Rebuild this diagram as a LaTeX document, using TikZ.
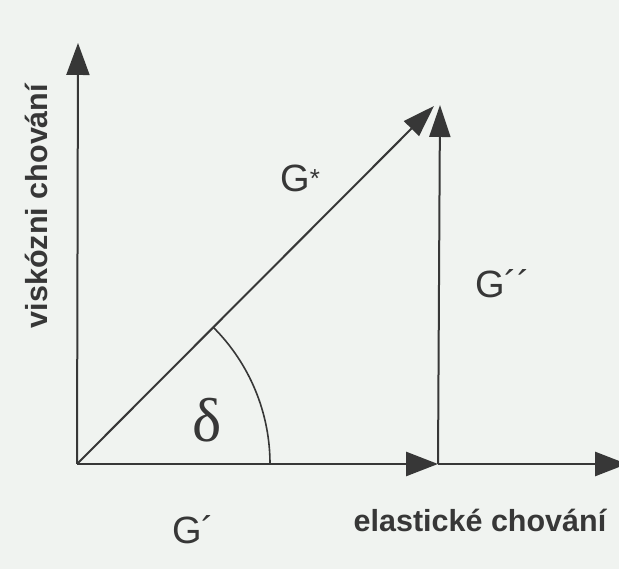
\documentclass[tikz,border=0pt]{standalone}
\usepackage{fontspec}
\setmainfont{Liberation Sans}
\newfontfamily\greekserif{Liberation Serif}
\usetikzlibrary{arrows.meta}
\definecolor{bgc}{RGB}{240,243,240}
\definecolor{ink}{RGB}{55,55,55}
\begin{document}
\begin{tikzpicture}[x=1pt,y=1pt,
  axis/.style={draw=ink, line width=2pt, -{Triangle[length=32pt,width=23pt]}},
  haxis/.style={draw=ink, line width=2.8pt, -{Triangle[length=32pt,width=24pt]}},
  axlabel/.style={text=ink, font=\fontsize{30.5}{36}\selectfont\bfseries, inner sep=0pt},
  glabel/.style={text=ink, font=\fontsize{38}{44}\selectfont, inner sep=0pt}]
\useasboundingbox (0,0) rectangle (619,569);
\fill[bgc] (0,0) rectangle (619,569);
\clip (0,0) rectangle (619,569);
% points
\coordinate (O) at (77,105);
\coordinate (Ytop) at (78,526);
\coordinate (D) at (434,463);
\coordinate (P) at (438,105);
\coordinate (V) at (440,464);
\coordinate (Xend) at (627,105);
% axes and vectors
\draw[axis] (O) -- (Ytop);
\draw[haxis] (O) -- (P);
\draw[haxis] (P) -- (Xend);
\draw[axis, -{Triangle[length=32pt,width=21pt]}] (O) -- (D);
\draw[axis, -{Triangle[length=32pt,width=21pt]}] (P) -- (V);
% angle arc
\draw[ink, line width=1.6pt] (O) ++(193,0) arc[start angle=0, end angle=45, radius=193];
% labels
\node[text=ink, inner sep=0pt, font=\greekserif\fontsize{62}{64}\selectfont] (delta) at (207,149) {δ};
\node[glabel, anchor=base west] (gstar) at (280,377) {G{\fontsize{26}{26}\selectfont\raisebox{4pt}{*}}};
\node[glabel, anchor=base west] (gdd) at (475,271) {G´´};
\node[glabel, anchor=base west] (gd) at (172,25) {G´};
\node[axlabel, anchor=base] (xlab) at (480,37) {elastické chování};
\node[axlabel, anchor=base, rotate=90] (ylab) at (47,363) {viskózni chování};
\end{tikzpicture}
\end{document}
